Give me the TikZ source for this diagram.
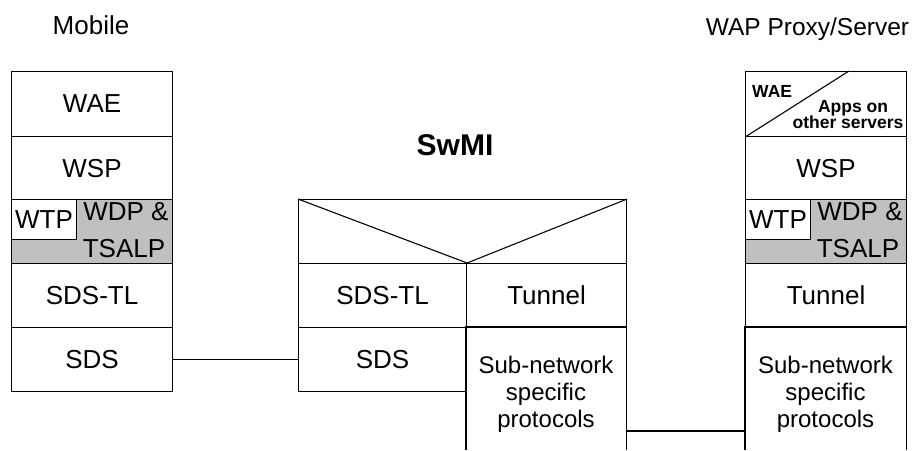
\documentclass[tikz,border=0pt]{standalone}
\usepackage{fontspec}
\setmainfont{Liberation Sans}
\usetikzlibrary{calc}
\definecolor{lgray}{HTML}{C0C0C0}
\tikzset{
  box/.style={draw=black, line width=1.1pt, inner sep=0pt, anchor=north west,
    align=center, font=\fontsize{26}{30}\selectfont},
  openbox/.style={draw=none, inner sep=0pt, anchor=north west},
  subtxt/.style={inner sep=0pt, align=center, font=\fontsize{24}{27}\selectfont},
  lbl/.style={inner sep=0pt, anchor=base, font=\fontsize{26}{30}\selectfont},
  small/.style={inner sep=0pt, anchor=base, font=\fontsize{17.5}{20}\bfseries},
  conn/.style={draw=black, line width=1.1pt},
}
\begin{document}
\begin{tikzpicture}[x=1pt, y=-1pt]
\useasboundingbox (0,0) rectangle (923,450);
% titles
\node[inner sep=0pt, anchor=base, font=\fontsize{26}{30}\selectfont] (tmob) at (91,34) {Mobile};
\node[inner sep=0pt, anchor=base, font=\fontsize{24.5}{30}\selectfont] (twap) at (807.5,35) {WAP Proxy/Server};
\node[inner sep=0pt, anchor=base, font=\fontsize{30}{34}\bfseries] (tswmi) at (455,155) {SwMI};
% mobile stack
\node[box, minimum width=161, minimum height=65] (mwae) at (11,71) {WAE};
\node[box, minimum width=161, minimum height=63] (mwsp) at (11,136) {WSP};
\node[box, fill=lgray, minimum width=161, minimum height=64] (mwdp) at (11,199) {};
\node[box, fill=white, minimum width=65, minimum height=40] (mwtp) at (11,199) {WTP};
\node[lbl] (mwdpa) at (126,220) {WDP \&};
\node[lbl] (mwdpb) at (124,257) {TSALP};
\node[box, minimum width=161, minimum height=64] (msdstl) at (11,263) {SDS-TL};
\node[box, minimum width=161, minimum height=64] (msds) at (11,327) {SDS};
% SwMI stack
\node[box, minimum width=328, minimum height=64] (svee) at (298,199) {};
\node[box, minimum width=168, minimum height=64] (ssdstl) at (298,263) {SDS-TL};
\node[box, minimum width=168, minimum height=64] (ssds) at (298,327) {SDS};
\node[box, minimum width=160, minimum height=64] (stun) at (466,263) {Tunnel};
\node[openbox, minimum width=160, minimum height=123] (ssub) at (466,327) {};
\node[subtxt] (ssubt) at (546,394) {Sub-network\\specific\\protocols};
\draw[conn] (svee.north west) -- (ssdstl.north east) -- (svee.north east);
\draw[conn] (ssub.south west) -- (ssub.north west) -- (ssub.north east) -- (ssub.south east);
% server stack
\node[box, minimum width=161, minimum height=65] (rwae) at (745,71) {};
\draw[conn] (rwae.south west) -- ($(rwae.north west)+(104,0)$);
\node[small, anchor=base west] (rwaea) at (752,97) {WAE};
\node[small] (rwaeb) at (853,112) {Apps on};
\node[small] (rwaec) at (848,128) {other servers};
\node[box, minimum width=161, minimum height=63] (rwsp) at (745,136) {WSP};
\node[box, fill=lgray, minimum width=161, minimum height=64] (rwdp) at (745,199) {};
\node[box, fill=white, minimum width=65, minimum height=40] (rwtp) at (745,199) {WTP};
\node[lbl] (rwdpa) at (860,220) {WDP \&};
\node[lbl] (rwdpb) at (858,257) {TSALP};
\node[box, minimum width=161, minimum height=64] (rtun) at (745,263) {Tunnel};
\node[openbox, minimum width=161, minimum height=123] (rsub) at (745,327) {};
\node[subtxt] (rsubt) at (825.5,394) {Sub-network\\specific\\protocols};
\draw[conn] (rsub.south west) -- (rsub.north west) -- (rsub.north east) -- (rsub.south east);
% connectors
\draw[conn] (msds.east) -- (ssds.west);
\coordinate (c1) at ($(ssub.north east)+(0,104)$);
\draw[conn] (c1) -- (c1 -| rsub.west);
\end{tikzpicture}
\end{document}
